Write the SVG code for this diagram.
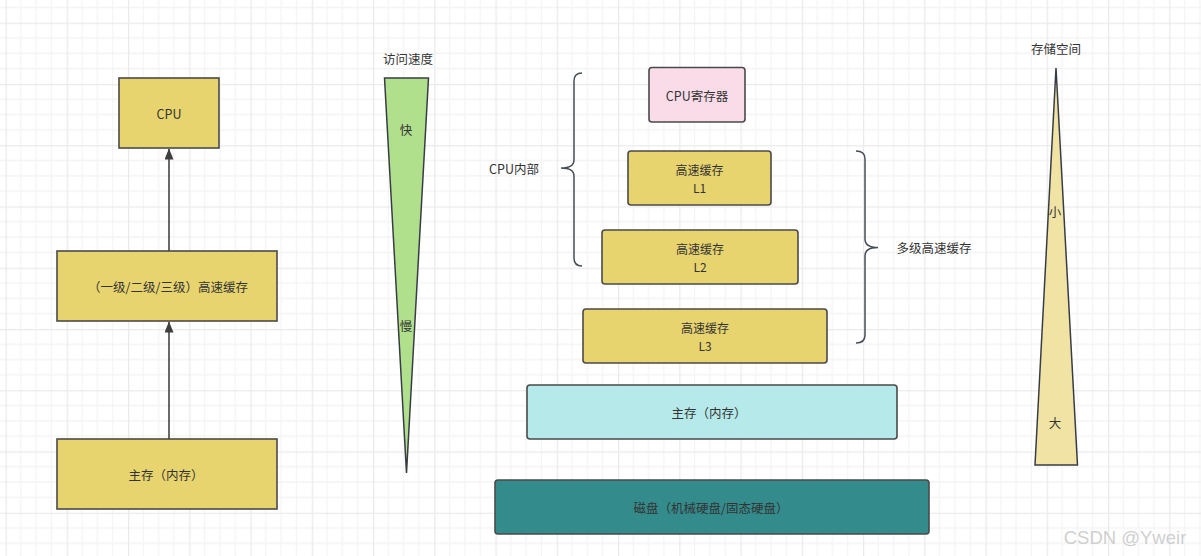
<svg xmlns="http://www.w3.org/2000/svg" width="1201" height="556" viewBox="0 0 1201 556">
  <defs>
    <pattern id="grid" patternUnits="userSpaceOnUse" x="5.5" y="22.7" width="61.25" height="61.25">
      <path d="M15.31 0V61.25M30.62 0V61.25M45.94 0V61.25M0 15.31H61.25M0 30.62H61.25M0 45.94H61.25" stroke="#f4f4f4" stroke-width="1.3" fill="none"/>
      <path d="M0.5 0V61.25M0 0.5H61.25" stroke="#eaeaea" stroke-width="1.5" fill="none"/>
    </pattern>
    <marker id="arrow" viewBox="0 0 11 9" refX="10.5" refY="4.5" markerWidth="11" markerHeight="9" markerUnits="userSpaceOnUse" orient="auto">
      <path d="M0 0L11 4.5L0 9Z" fill="#3f3f3f"/>
    </marker>
    <style>
      text { font-family: "Noto Sans CJK SC", "Liberation Sans", sans-serif; font-size: 12.5px; fill: #333333; text-anchor: middle; dominant-baseline: central; }
      .two { font-size: 12px; }
      .box { stroke: #4a4a4a; stroke-width: 1.6; }
      .yellow { fill: #e8d46f; }
      .edge { stroke: #444444; stroke-width: 1.6; fill: none; }
      .brace { stroke: #474d56; stroke-width: 1.5; fill: none; }
    </style>
  </defs>

  <rect width="1201" height="556" fill="#ffffff"/>
  <rect width="1201" height="556" fill="url(#grid)"/>

  <!-- left column: simple chain -->
  <g id="node-cpu">
    <rect class="box yellow" x="119" y="78" width="100" height="70"/>
    <text x="169" y="113">CPU</text>
  </g>
  <g id="node-cache">
    <rect class="box yellow" x="57" y="251" width="220" height="70"/>
    <text x="168" y="286">（一级/二级/三级）高速缓存</text>
  </g>
  <g id="node-memory">
    <rect class="box yellow" x="57" y="439" width="220" height="70"/>
    <text x="166" y="474">主存（内存）</text>
  </g>
  <g id="connectors">
    <line class="edge" x1="169" y1="439" x2="169" y2="322" marker-end="url(#arrow)"/>
    <line class="edge" x1="169" y1="251" x2="169" y2="149" marker-end="url(#arrow)"/>
  </g>

  <!-- access speed wedge -->
  <g id="speed">
    <text x="408" y="58">访问速度</text>
    <path d="M384.5 78H428.5L406.5 473Z" fill="#b1e08c" stroke="#383d45" stroke-width="1.5" stroke-linejoin="miter"/>
    <text x="406" y="129">快</text>
    <text x="406" y="325">慢</text>
  </g>

  <!-- storage pyramid -->
  <g id="node-register">
    <rect class="box" x="649" y="67.5" width="96" height="54.5" rx="3" fill="#fadce9"/>
    <text x="697" y="95">CPU寄存器</text>
  </g>
  <g id="node-l1">
    <rect class="box yellow" x="628" y="151" width="143" height="54" rx="3"/>
    <text class="two" x="699.5" y="169">高速缓存</text>
    <text class="two" x="699.5" y="187">L1</text>
  </g>
  <g id="node-l2">
    <rect class="box yellow" x="602" y="230" width="196" height="54" rx="3"/>
    <text class="two" x="700" y="248">高速缓存</text>
    <text class="two" x="700" y="266">L2</text>
  </g>
  <g id="node-l3">
    <rect class="box yellow" x="583" y="309" width="244" height="54" rx="3"/>
    <text class="two" x="705" y="327">高速缓存</text>
    <text class="two" x="705" y="345">L3</text>
  </g>
  <g id="node-main">
    <rect class="box" x="527" y="385" width="370" height="54" rx="3" fill="#b6eaea"/>
    <text x="709" y="412">主存（内存）</text>
  </g>
  <g id="node-disk">
    <rect class="box" x="495" y="480" width="434" height="54" rx="3" fill="#348b8b"/>
    <text x="711" y="507">磁盘（机械硬盘/固态硬盘）</text>
  </g>

  <!-- braces -->
  <g id="brace-cpu">
    <path class="brace" d="M582 73Q574 73 574 81V160Q574 168 561 168Q574 168 574 176V258Q574 266 582 266"/>
    <text x="514" y="168">CPU内部</text>
  </g>
  <g id="brace-cache">
    <path class="brace" d="M856 151Q865 151 865 159V239Q865 247.5 878 247.5Q865 247.5 865 256V335Q865 343 856 343"/>
    <text x="934" y="247">多级高速缓存</text>
  </g>

  <!-- storage capacity wedge -->
  <g id="capacity">
    <text x="1056" y="48">存储空间</text>
    <path d="M1056 68L1077.5 465H1035Z" fill="#f1e3a3" stroke="#383d45" stroke-width="1.5"/>
    <text x="1055" y="211">小</text>
    <text x="1055" y="422">大</text>
  </g>

  <text x="1125" y="537" style="font-family: 'Liberation Sans', sans-serif; font-size: 18.5px; fill: #cfcfcf;">CSDN @Yweir</text>
</svg>
